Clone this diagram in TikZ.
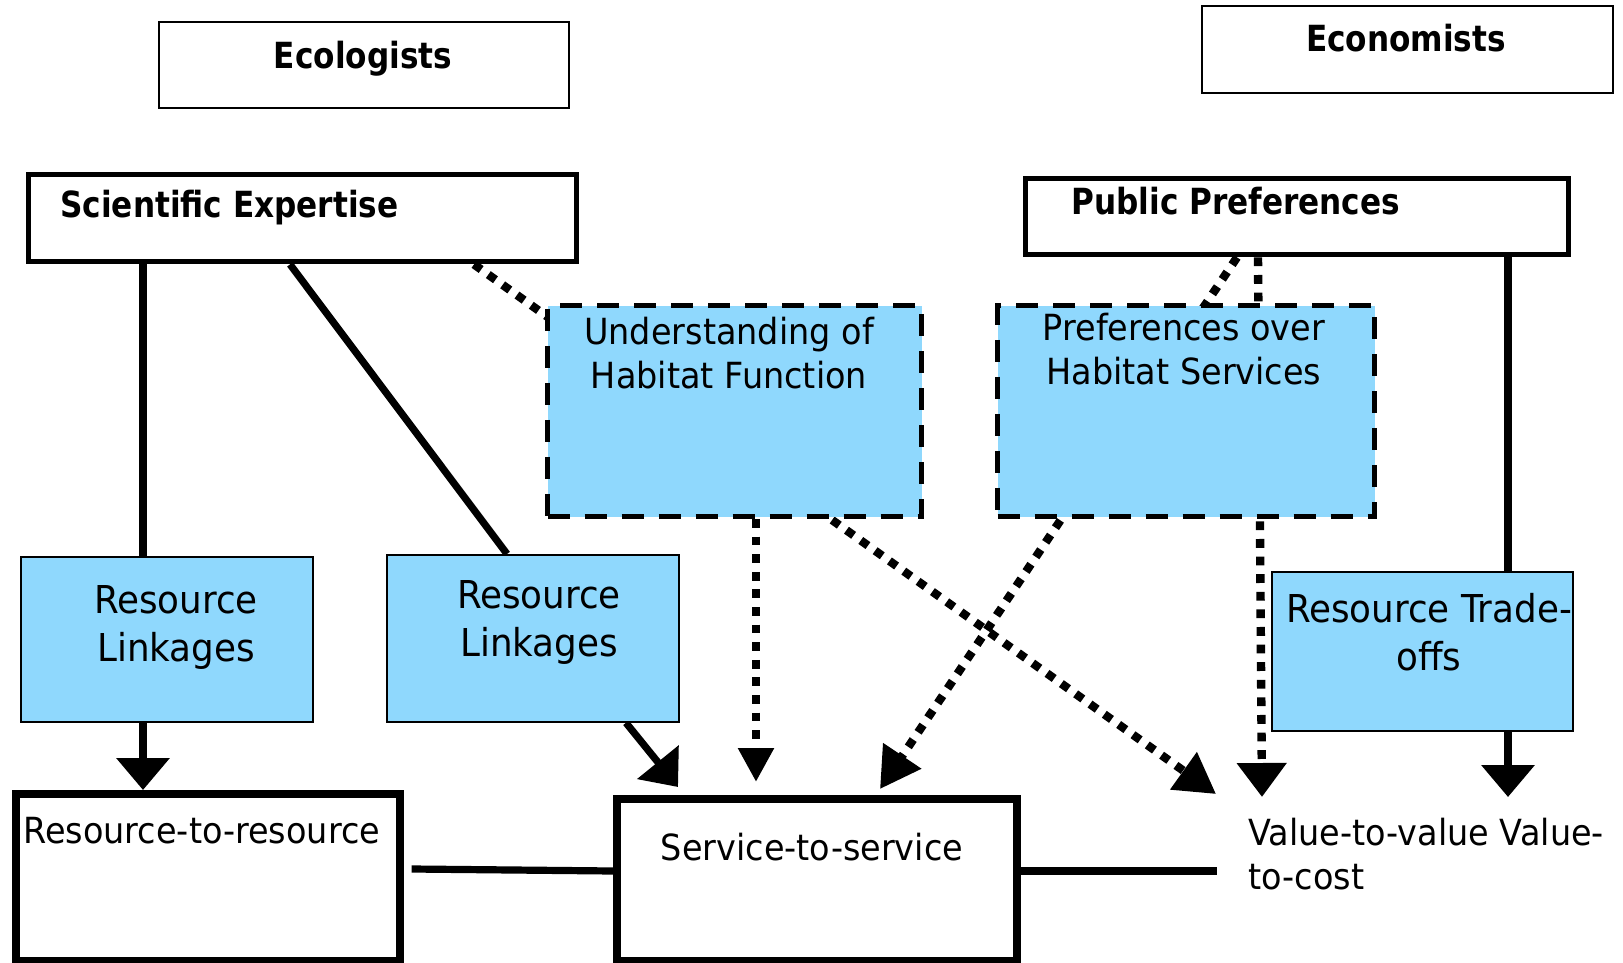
\documentclass[tikz,border=0pt]{standalone}
\usepackage{fontspec}
\setmainfont{DejaVu Sans}[FakeStretch=0.93]
\newfontfamily\boldfam{DejaVu Sans}[FakeStretch=0.865]
\usetikzlibrary{arrows.meta,backgrounds}
\definecolor{skyb}{RGB}{143,216,253}
\begin{document}
\begin{tikzpicture}[x=0.5pt,y=-0.5pt,
 bx/.style={draw, inner sep=0pt, anchor=north west, fill=white},
 thinbox/.style={bx, line width=0.8pt},
 heavybox/.style={bx, line width=2.7pt},
 bigbox/.style={bx, line width=3.8pt},
 bluebox/.style={bx, fill=skyb, line width=0.9pt},
 dashbox/.style={bx, fill=skyb, line width=2.5pt, dash pattern=on 11pt off 7.5pt},
 tx/.style={inner sep=0pt, align=center, font=\fontsize{18}{22}\selectfont},
 btx/.style={inner sep=0pt, font=\fontsize{18}{22}\selectfont\boldfam\bfseries},
 bigtx/.style={inner sep=0pt, align=center, font=\fontsize{19.2}{24}\selectfont},
 sline/.style={line width=3.6pt},
 dotline/.style={line width=4.2pt, dash pattern=on 4.4pt off 4.4pt},
 sarrow/.style={-{Triangle[width=26pt,length=16pt]}},
 darrow/.style={-{Triangle[width=17pt,length=17pt]}},
 diagarrow/.style={-{Triangle[width=22pt,length=20pt]}},
]
\useasboundingbox (0,0) rectangle (1623,963);

% boxes
\node[thinbox, minimum width=205pt, minimum height=43pt] (eco) at (158,21) {};
\node[thinbox, minimum width=205.5pt, minimum height=43.5pt] (econ) at (1201,5) {};
\node[heavybox, minimum width=274pt, minimum height=43.5pt] (se) at (26,172) {};
\node[heavybox, minimum width=271.5pt, minimum height=38pt] (pp) at (1023,176) {};
\node[dashbox, minimum width=187pt, minimum height=105.5pt] (und) at (545,303) {};
\node[dashbox, minimum width=188.5pt, minimum height=105.5pt] (pref) at (995,303) {};
\node[bluebox, minimum width=146pt, minimum height=82.5pt] (rl1) at (20,556) {};
\node[bluebox, minimum width=146pt, minimum height=83.5pt] (rl2) at (386,554) {};
\node[bluebox, minimum width=150.5pt, minimum height=79.5pt] (rto) at (1271,571) {};
\node[bigbox, minimum width=192pt, minimum height=83.5pt] (rtr) at (12,790) {};
\node[bigbox, minimum width=200pt, minimum height=81pt] (serv) at (613,795) {};

% texts
\node[btx, anchor=north] (eco-t) at (363,41) {Ecologists};
\node[btx, anchor=north] (econ-t) at (1406,24) {Economists};
\node[btx, anchor=north west] (se-t) at (60,190) {Scientific Expertise};
\node[btx, anchor=north west] (pp-t) at (1071,187) {Public Preferences};
\node[tx, anchor=north] (und-t) at (729,317) {Understanding of\\Habitat Function};
\node[tx, anchor=north] (pref-t) at (1184,313) {Preferences over\\Habitat Services};
\node[bigtx, anchor=north] (rl1-t) at (176,585) {Resource\\Linkages};
\node[bigtx, anchor=north] (rl2-t) at (539,580) {Resource\\Linkages};
\node[bigtx, anchor=north] (rto-t) at (1429,593) {Resource Trade-\\offs};
\node[tx, anchor=north west] (rtr-t) at (23,817) {Resource-to-resource};
\node[tx, anchor=north] (serv-t) at (812,833) {Service-to-service};
\node[tx, anchor=north west, align=left] (val) at (1248,818) {Value-to-value Value-\\to-cost};

\coordinate (v1) at (1216,794);
\coordinate (v2) at (1262,797);
\coordinate (v3) at (1508,797);

% connectors (behind boxes)
\begin{scope}[on background layer]
\draw[sline] ([xshift=58.5pt]se.south west) -- ([xshift=61.5pt]rl1.north west);
\draw[sline] ([xshift=132pt]se.south west) -- ([xshift=60.5pt]rl2.north west);
\draw[dotline, diagarrow] ([xshift=224pt]se.south west) -- (v1);
\draw[dotline, darrow] ([xshift=105.5pt]und.south west) -- ([xshift=71.5pt,yshift=6.5pt]serv.north west);
\draw[dotline, diagarrow] ([xshift=107pt]pp.south west) -- ([xshift=133.5pt,yshift=3pt]serv.north west);
\draw[dotline, -{Triangle[width=24pt,length=17pt]}] ([xshift=117.5pt]pp.south west) -- (v2);
\draw[sline] ([xshift=242.5pt]pp.south west) -- ([xshift=118.5pt]rto.north west);
\draw[sline, sarrow] ([xshift=118.5pt]rto.south west) -- (v3);
\draw[sline, sarrow] ([xshift=61.5pt]rl1.south west) -- ([xshift=65.5pt]rtr.north west);
\draw[sline, sarrow] ([xshift=120pt]rl2.south west) -- ([xshift=32.5pt,yshift=4pt]serv.north west);
\draw[sline] ([xshift=4pt,yshift=-39.5pt]rtr.north east) -- ([yshift=-38pt]serv.north west);
\draw[sline] ([yshift=-38pt]serv.north east) -- ([xshift=-15.5pt,yshift=-26.5pt]val.north west);
\end{scope}
\end{tikzpicture}
\end{document}
